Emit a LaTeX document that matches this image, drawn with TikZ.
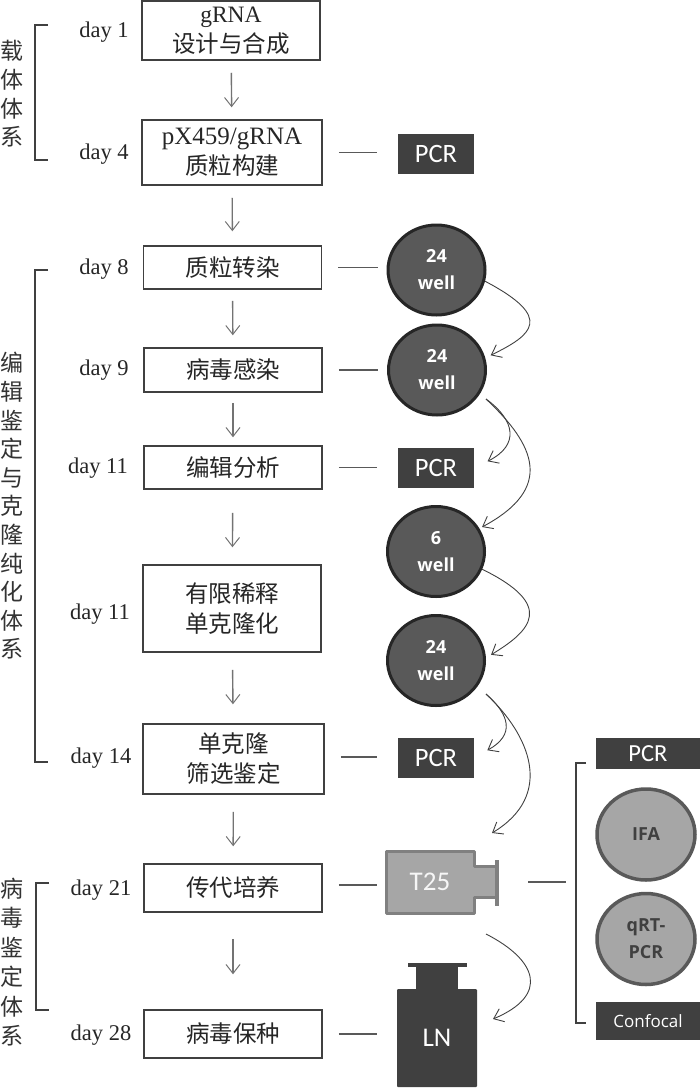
\documentclass[tikz,border=0pt]{standalone}
\usepackage{fontspec}
\setmainfont{Liberation Serif}
\newfontfamily\cjk{Noto Sans CJK SC}
\newfontfamily\opensans{Open Sans}
\newfontfamily\carlito{Carlito}
\usetikzlibrary{arrows.meta}
\usetikzlibrary{shapes.geometric}
\definecolor{darkfill}{HTML}{404040}
\definecolor{wellfill}{HTML}{595959}
\definecolor{lightfill}{HTML}{A6A6A6}
\tikzset{
  stepbox/.style={draw=darkfill,line width=1.5pt,fill=white,minimum width=178pt,inner sep=0pt,align=center,text=black!85,font=\fontsize{23.5}{30}\selectfont},
  cjkbox/.style={stepbox,font=\cjk\fontsize{23.5}{30}\selectfont},
  daylabel/.style={inner sep=0pt,text=black!85,font=\fontsize{22.5}{27}\selectfont},
  sidelabel/.style={inner sep=0pt,align=center,text=black!80,font=\cjk\fontsize{23}{28.6}\selectfont},
  pcrbox/.style={fill=darkfill,text=white,minimum width=76pt,minimum height=40pt,inner sep=0pt,font=\carlito\fontsize{26.5}{28}\selectfont},
  sidebox/.style={fill=darkfill,text=white,minimum width=104pt,inner sep=0pt},
  wellnode/.style={ellipse,draw=black!85,line width=3pt,fill=wellfill,text=white,minimum width=97pt,minimum height=90pt,inner sep=0pt,align=center,font=\opensans\bfseries\fontsize{18}{27}\selectfont},
  assaynode/.style={ellipse,draw=wellfill,line width=3.5pt,fill=lightfill,text=darkfill,minimum width=98pt,minimum height=91pt,inner sep=0pt,align=center,font=\opensans\bfseries\fontsize{18}{27}\selectfont},
  flowarrow/.style={draw=black!55,line width=1.4pt,-{Straight Barb[length=9pt,width=14pt,line width=1pt]}},
  curvearrow/.style={draw=darkfill,line width=0.9pt,-{Straight Barb[length=9pt,width=14pt,line width=0.9pt]}},
  tickline/.style={draw=black!65,line width=1.4pt,shorten <=16pt},
  bracketline/.style={draw=darkfill,line width=1.2pt},
}
\begin{document}
\begin{tikzpicture}[x=1pt,y=-1pt]
\useasboundingbox (0,0) rectangle (700,1088);

\node[stepbox,minimum height=59pt] (gRNA) at (231,30.5) {gRNA\\{\cjk 设计与合成}};
\node[stepbox,minimum width=180pt,minimum height=65pt] (plasmid) at (232,152.5) {\fontsize{25}{30}\selectfont pX459/gRNA\\{\cjk\fontsize{23.5}{30}\selectfont 质粒构建}};
\node[cjkbox,minimum height=43pt] (transfect) at (232.5,267.5) {质粒转染};
\node[cjkbox,minimum height=44pt] (infect) at (233,370) {病毒感染};
\node[cjkbox,minimum height=43pt] (edit) at (233,467.5) {编辑分析};
\node[cjkbox,minimum height=87pt] (dilute) at (232,608.5) {有限稀释\\单克隆化};
\node[cjkbox,minimum width=181pt,minimum height=70pt] (clone) at (233.5,759) {单克隆\\筛选鉴定};
\node[cjkbox,minimum height=48pt] (passage) at (233,888) {传代培养};
\node[cjkbox,minimum height=48pt] (stock) at (233,1034) {病毒保种};

\node[daylabel] (d1) at (104,32) {day 1};
\node[daylabel] (d4) at (104,154) {day 4};
\node[daylabel] (d8) at (104,269) {day 8};
\node[daylabel] (d9) at (104,370) {day 9};
\node[daylabel] (d11a) at (98,468) {day 11};
\node[daylabel] (d11b) at (100,614) {day 11};
\node[daylabel] (d14) at (101,758) {day 14};
\node[daylabel] (d21) at (101,890) {day 21};
\node[daylabel] (d28) at (101,1035) {day 28};

\node[sidelabel] (sideA) at (12,94) {载\\体\\体\\系};
\node[sidelabel] (sideB) at (12,506) {编\\辑\\鉴\\定\\与\\克\\隆\\纯\\化\\体\\系};
\node[sidelabel,font=\cjk\fontsize{23}{29.4}\selectfont] (sideC) at (12,962) {病\\毒\\鉴\\定\\体\\系};

\draw[bracketline] (48,25) -- (35,25) -- (35,160) -- (48,160);
\draw[bracketline] (48,270) -- (35,270) -- (35,762) -- (48,762);
\draw[bracketline] (49,883) -- (36,883) -- (36,1010) -- (49,1010);
\draw[bracketline] (586,763) -- (576,763) -- (576,1023) -- (586,1023);

\node[pcrbox] (pcrA) at (436,154) {PCR};
\node[pcrbox] (pcrB) at (436,468) {PCR};
\node[pcrbox] (pcrC) at (436,757.5) {PCR};
\node[wellnode] (wellA) at (436.5,270) {24\\well};
\node[wellnode] (wellB) at (437,370) {24\\well};
\node[wellnode] (wellC) at (436,551.5) {6\\well};
\node[wellnode] (wellD) at (436,660.5) {24\\well};

\fill[draw=black!50,line width=3pt,fill=lightfill,line join=round] (386.5,851.5) -- (474,851.5) -- (474,866) -- (496,866) -- (496,897) -- (474,897) -- (474,913) -- (386.5,913) -- cycle;
\fill[black!50] (495,860) rectangle (499,906);
\node[minimum width=90pt,minimum height=64pt,inner sep=0pt,text=white!90!lightfill,font=\carlito\fontsize{27}{28}\selectfont] (flask) at (430,882) {T25};

\fill[darkfill] (408,963) rectangle (467,967);
\fill[darkfill] (416,965) rectangle (458,990);
\node[fill=darkfill,rounded corners=1pt,minimum width=80pt,minimum height=98pt,inner sep=0pt,text=white,font=\carlito\fontsize{27}{28}\selectfont] (ln) at (437,1038) {LN};

\node[sidebox,minimum height=31pt,font=\carlito\fontsize{24.5}{28}\selectfont] (pcrD) at (648,753.5) {PCR};
\node[assaynode] (ifa) at (646,834.5) {IFA};
\node[assaynode] (qrt) at (646,939) {qRT-\\PCR};
\node[sidebox,minimum height=38pt,font=\opensans\fontsize{17}{20}\selectfont] (confocal) at (648,1021) {Confocal};

\draw[flowarrow,shorten <=12pt,shorten >=12pt] (gRNA) -- (plasmid);
\draw[flowarrow,shorten <=12pt,shorten >=14pt] (plasmid) -- (transfect);
\draw[flowarrow,shorten <=11pt,shorten >=12pt] (transfect) -- (infect);
\draw[flowarrow,shorten <=10pt,shorten >=8pt] (infect) -- (edit);
\draw[flowarrow,shorten <=23pt,shorten >=17pt] (edit) -- (dilute);
\draw[flowarrow,shorten <=17pt,shorten >=19pt] (dilute) -- (clone);
\draw[flowarrow,shorten <=17pt,shorten >=17pt] (clone) -- (passage);
\draw[flowarrow,shorten <=26pt,shorten >=35pt] (passage) -- (stock);

\draw[tickline,shorten >=21pt] (plasmid.east) -- (plasmid.east -| pcrA.west);
\draw[tickline,shorten >=9pt] (transfect.east) -- (transfect.east -| wellA.west);
\draw[tickline,shorten >=9pt] (infect.east) -- (infect.east -| wellB.west);
\draw[tickline,shorten >=21pt] (edit.east) -- (edit.east -| pcrB.west);
\draw[tickline,shorten >=21pt] ([yshift=2pt]clone.east) -- ([yshift=2pt]clone.east -| pcrC.west);
\draw[tickline,shorten >=8pt] ([yshift=3pt]passage.east) -- ([yshift=3pt]passage.east -| flask.west);
\draw[tickline,shorten >=20pt] (stock.east) -- (stock.east -| ln.west);

\coordinate (bracketR) at (576,882);
\draw[tickline,shorten <=53pt,shorten >=10pt] (flask.east) -- (bracketR);

\coordinate (wellBout) at (486,399);
\coordinate (wellDout) at (486,694);
\coordinate (flaskIn) at (492,833);
\coordinate (flaskOut) at (486,934);
\coordinate (lnIn) at (493,1019);

\draw[curvearrow,shorten >=6pt] (wellA.-13) .. controls (555,318) and (532,335) .. (wellB.14);
\draw[curvearrow,shorten >=15pt] (wellBout) .. controls (515,420) and (520,445) .. (pcrB.east);
\draw[curvearrow,shorten >=3pt] (wellBout) .. controls (535,445) and (555,488) .. (wellC.28);
\draw[curvearrow,shorten >=6pt] (wellC.-21) .. controls (555,605) and (532,630) .. (wellD.3);
\draw[curvearrow,shorten >=15pt] (wellDout) .. controls (510,715) and (515,735) .. (pcrC.east);
\draw[curvearrow] (wellDout) .. controls (530,735) and (555,795) .. (flaskIn);
\draw[curvearrow] (flaskOut) .. controls (537,960) and (550,995) .. (lnIn);
\end{tikzpicture}
\end{document}
